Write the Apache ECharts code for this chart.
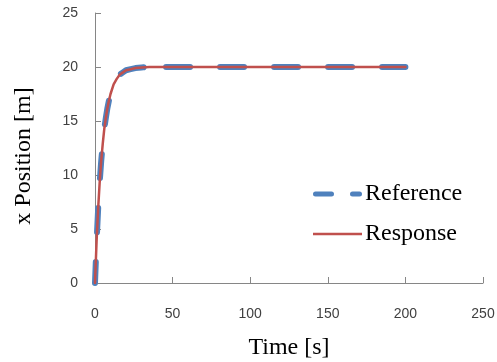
<!DOCTYPE html>
<html>
<head>
<meta charset="utf-8">
<script src="https://cdn.jsdelivr.net/npm/echarts@6/dist/echarts.min.js"></script>
<style>html,body{margin:0;padding:0;background:#fff;}#c{width:497px;height:362px;}</style>
</head>
<body>
<div id="c"></div>
<script>
var times = [0, 1, 2, 3, 4, 5, 6, 7, 8, 9, 10, 12, 14, 16, 18, 20, 23, 26, 30, 35, 40, 50, 60, 80, 100, 120, 140, 160, 180, 200];
var referenceValues = [0, 3.8, 6.8, 9.3, 11.3, 12.9, 14.3, 15.3, 16.2, 16.9, 17.5, 18.4, 18.9, 19.3, 19.5, 19.7, 19.8, 19.9, 19.96, 19.99, 20, 20, 20, 20, 20, 20, 20, 20, 20, 20];
var responseValues = [0, 3.8, 6.8, 9.3, 11.3, 12.9, 14.3, 15.3, 16.2, 16.9, 17.5, 18.4, 18.9, 19.3, 19.5, 19.7, 19.8, 19.9, 19.96, 19.99, 20, 20, 20, 20, 20, 20, 20, 20, 20, 20];
var xTicks = [0, 50, 100, 150, 200, 250];
var yTicks = [0, 5, 10, 15, 20, 25];

function pairs(xs, ys) { return xs.map(function (x, i) { return [x, ys[i]]; }); }
var refPairs = pairs(times, referenceValues);
// the dashed reference is drawn in two pieces (rise and plateau) so the dash phase matches the original
var splitIdx = times.indexOf(40);
var refRise = refPairs.slice(0, splitIdx + 1);
var refFlat = refPairs.slice(splitIdx);

var chart = echarts.init(document.getElementById('c'), null, {renderer: 'canvas'});
var axisGray = '#868686';
var labelStyle = {color: '#404040', fontFamily: 'Liberation Sans', fontSize: 14};
var refIcon = 'path://M2.5,0 h16 a2.5,2.5 0 0 1 0,5 h-16 a2.5,2.5 0 0 1 0,-5 z M39.5,0 h7 a2.5,2.5 0 0 1 0,5 h-7 a2.5,2.5 0 0 1 0,-5 z';
var resIcon = 'path://M0,0 h49 v2.5 h-49 z';
var refLine = {color: '#4F81BD', width: 6, cap: 'round', join: 'round'};
chart.setOption({
  animation: false,
  backgroundColor: '#fff',
  grid: {left: 95, right: 14, top: 13, bottom: 79, containLabel: false, outerBoundsMode: 'none'},
  legend: {
    orient: 'vertical',
    left: 313, top: 182, padding: 0,
    itemWidth: 49, itemHeight: 12, itemGap: 16,
    textStyle: {fontFamily: 'Liberation Serif', fontSize: 24, color: '#000', lineHeight: 24, padding: [0, 0, 0, -2]},
    data: [
      {name: 'Reference', icon: refIcon, itemStyle: {color: '#4F81BD'}},
      {name: 'Response', icon: resIcon, itemStyle: {color: '#C0504D'}}
    ]
  },
  xAxis: {
    type: 'value', min: xTicks[0], max: xTicks[xTicks.length - 1], interval: 50,
    name: 'Time [s]', nameLocation: 'middle', nameGap: 53,
    nameTextStyle: {fontFamily: 'Liberation Serif', fontSize: 24, color: '#000'},
    axisLine: {show: true, lineStyle: {color: axisGray, width: 1}},
    axisTick: {show: true, inside: true, length: 6, lineStyle: {color: axisGray}},
    axisLabel: Object.assign({margin: 24}, labelStyle),
    splitLine: {show: false}
  },
  yAxis: {
    type: 'value', min: yTicks[0], max: yTicks[yTicks.length - 1], interval: 5,
    name: 'x Position [m]', nameLocation: 'middle', nameGap: 59,
    nameTextStyle: {fontFamily: 'Liberation Serif', fontSize: 24, color: '#000', padding: [0, 16, 0, 0]},
    axisLine: {show: true, lineStyle: {color: axisGray, width: 1}},
    axisTick: {show: true, inside: true, length: 6, lineStyle: {color: axisGray}},
    axisLabel: Object.assign({margin: 17}, labelStyle),
    splitLine: {show: false}
  },
  series: [
    {
      name: 'Reference', type: 'line', showSymbol: false, symbol: 'none',
      data: refRise,
      lineStyle: Object.assign({type: [24, 30], dashOffset: 3}, refLine),
      itemStyle: {color: '#4F81BD'}, z: 2
    },
    {
      name: 'Reference', type: 'line', showSymbol: false, symbol: 'none',
      data: refFlat,
      lineStyle: Object.assign({type: [24, 30], dashOffset: 45}, refLine),
      itemStyle: {color: '#4F81BD'}, z: 2
    },
    {
      name: 'Response', type: 'line', showSymbol: false, symbol: 'none',
      data: pairs(times, responseValues),
      lineStyle: {color: '#C0504D', width: 2.5, cap: 'round', join: 'round'},
      itemStyle: {color: '#C0504D'}, z: 3
    }
  ]
});
</script>
</body>
</html>
